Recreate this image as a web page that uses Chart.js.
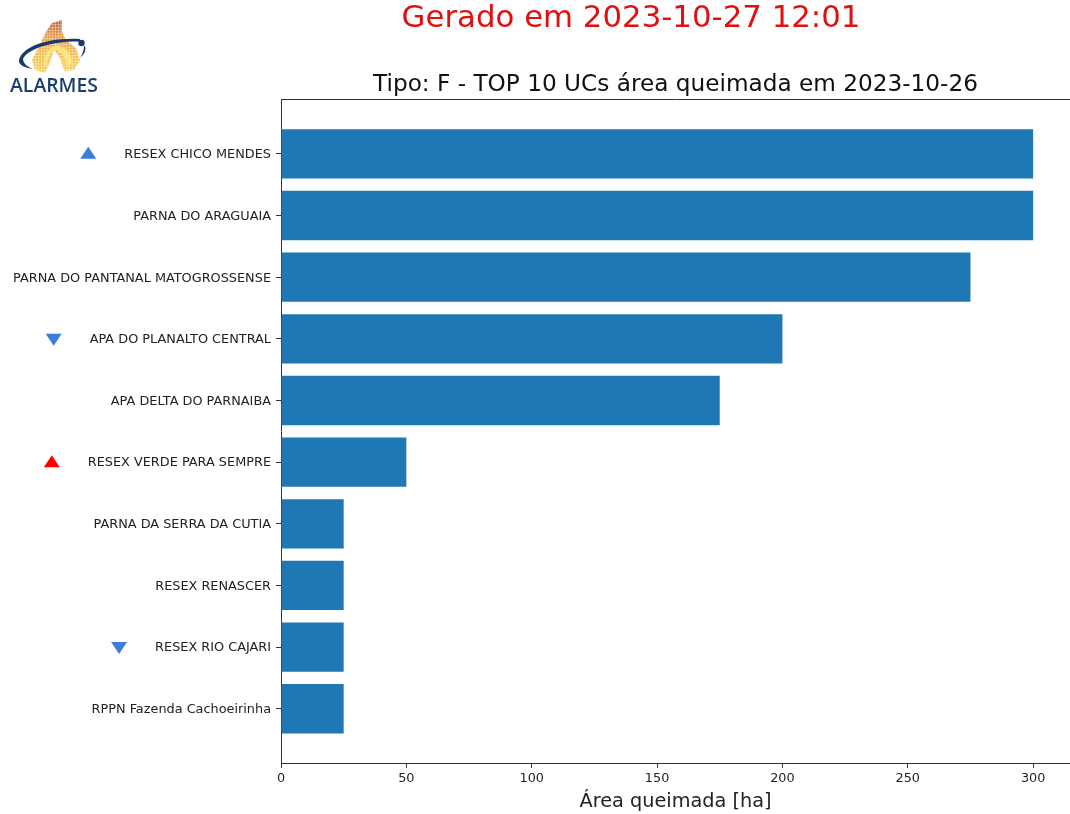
<!DOCTYPE html>
<html>
<head>
<meta charset="utf-8">
<title>TOP 10 UCs</title>
<script src="https://cdn.jsdelivr.net/npm/chart.js@4"></script>
<style>
  html, body { margin: 0; padding: 0; background: #fff; }
  #wrap { position: relative; width: 1070px; height: 814px; overflow: hidden; }
  #chart { display: block; }
  #logo { position: absolute; left: 0; top: 0; }
</style>
</head>
<body>
<div id="wrap">
  <canvas id="chart" width="1070" height="814"></canvas>
  <svg id="logo" width="110" height="100" viewBox="0 0 110 100">
    <defs>
      <linearGradient id="flameFill" x1="0" y1="0" x2="0" y2="1">
        <stop offset="0" stop-color="#b5553f"/>
        <stop offset="0.3" stop-color="#e8923f"/>
        <stop offset="0.6" stop-color="#f2b743"/>
        <stop offset="1" stop-color="#f3cf4f"/>
      </linearGradient>
      <pattern id="dots" width="2.8" height="2.8" patternUnits="userSpaceOnUse">
        <rect width="2.4" height="2.4" fill="#fff"/>
      </pattern>
      <mask id="dotMask"><rect width="110" height="100" fill="url(#dots)"/></mask>
    </defs>
    <path mask="url(#dotMask)" fill="url(#flameFill)" d="M62 20 L52 23 L47 30 L42 40 L37 50 L32 60 L35 70 L45 73 L50 62 L54 50 L60 58 L64 71 L74 70 L80 60 L76 48 L66 40 L62 32 Z"/>
    <path mask="url(#dotMask)" fill="#fcea7c" d="M44 66 Q43 50 56 45 Q68 46 72 60 Q71 66 68 68 Q64 52 55 50 Q48 54 46 66 Z"/>
    <path fill="#17396b" d="M19 62 C19 49 44 37 80 39 L80 41.5 C52 41 27 49 23 59 Q23 65 33 69 Q20 67 19 62 Z"/>
    <circle cx="81.5" cy="43" r="3.2" fill="#17396b"/>
    <path fill="#17396b" d="M85 46 Q87 52 80 58 Q84 52 84 46 Z"/>
    <text x="10" y="91.5" font-family="'Open Sans', Lato, sans-serif" font-size="20" font-weight="600" fill="#1c3f6e" textLength="88" lengthAdjust="spacingAndGlyphs">ALARMES</text>
  </svg>
</div>
<script>
const categories = [
  'RESEX CHICO MENDES',
  'PARNA DO ARAGUAIA',
  'PARNA DO PANTANAL MATOGROSSENSE',
  'APA DO PLANALTO CENTRAL',
  'APA DELTA DO PARNAIBA',
  'RESEX VERDE PARA SEMPRE',
  'PARNA DA SERRA DA CUTIA',
  'RESEX RENASCER',
  'RESEX RIO CAJARI',
  'RPPN Fazenda Cachoeirinha'
];
const areaValues = [300, 300, 275, 200, 175, 50, 25, 25, 25, 25];
// rank change against previous day, null = no marker
const trendDirections = ['up', null, null, 'down', null, 'up', null, null, 'down', null];
const trendColors = ['#3b7ddd', null, null, '#3b7ddd', null, '#ff0000', null, null, '#3b7ddd', null];

const xTicks = [0, 50, 100, 150, 200, 250, 300];
const generatedTitle = 'Gerado em 2023-10-27 12:01';
const chartTitle = 'Tipo: F - TOP 10 UCs área queimada em 2023-10-26';
const xAxisTitle = 'Área queimada [ha]';

const FONT = '"DejaVu Sans", sans-serif';
const AXIS_COLOR = '#333333';
const LABEL_SIZE = 12.85;

const extrasPlugin = {
  id: 'extras',
  afterDraw(chart) {
    const { ctx, chartArea, scales } = chart;
    ctx.save();

    // top spine
    ctx.strokeStyle = AXIS_COLOR;
    ctx.lineWidth = 1;
    ctx.beginPath();
    ctx.moveTo(chartArea.left, chartArea.top + 0.5);
    ctx.lineTo(chartArea.right, chartArea.top + 0.5);
    ctx.stroke();

    // titles
    ctx.textAlign = 'center';
    ctx.textBaseline = 'alphabetic';
    ctx.fillStyle = '#e01010';
    ctx.font = '30.8px ' + FONT;
    ctx.fillText(generatedTitle, 631, 27);
    ctx.fillStyle = '#111111';
    ctx.font = '23.2px ' + FONT;
    ctx.fillText(chartTitle, 675.5, 91);

    // trend triangles, left of each label
    ctx.font = LABEL_SIZE + 'px ' + FONT;
    trendDirections.forEach((dir, i) => {
      if (!dir) return;
      const s = dir === 'up' ? -1 : 1;
      const y = scales.y.getPixelForValue(i) + s;
      const x = chartArea.left - 10 - ctx.measureText(categories[i]).width - 36;
      ctx.fillStyle = trendColors[i];
      ctx.beginPath();
      ctx.moveTo(x - 8, y - s * 6);
      ctx.lineTo(x + 8, y - s * 6);
      ctx.lineTo(x, y + s * 6);
      ctx.closePath();
      ctx.fill();
    });
    ctx.restore();
  }
};

new Chart(document.getElementById('chart'), {
  type: 'bar',
  data: {
    datasets: [{
      data: areaValues.map((v, i) => ({ x: v, y: i })),
      backgroundColor: '#1f77b4',
      barPercentage: 0.8,
      categoryPercentage: 1
    }]
  },
  plugins: [extrasPlugin],
  options: {
    indexAxis: 'y',
    responsive: false,
    animation: false,
    layout: { padding: { top: 99, left: 0, right: 0, bottom: 0 } },
    plugins: {
      legend: { display: false },
      tooltip: { enabled: false }
    },
    scales: {
      x: {
        type: 'linear',
        min: 0,
        max: 314.7,
        afterFit: (scale) => { scale.height = 51; },
        afterBuildTicks: (scale) => { scale.ticks = xTicks.map((v) => ({ value: v })); },
        grid: { drawOnChartArea: false, color: AXIS_COLOR, tickLength: 5 },
        border: { color: AXIS_COLOR, width: 1 },
        ticks: { color: '#222222', font: { family: FONT, size: LABEL_SIZE }, padding: 3, maxRotation: 0 },
        title: {
          display: true,
          text: xAxisTitle,
          color: '#222222',
          font: { family: FONT, size: 19.3 },
          padding: { top: 2, bottom: 0 }
        }
      },
      y: {
        type: 'linear',
        reverse: true,
        offset: false,
        min: -0.89,
        max: 9.88,
        afterFit: (scale) => { scale.width = 281; },
        afterBuildTicks: (scale) => { scale.ticks = categories.map((c, i) => ({ value: i })); },
        grid: { offset: false, drawOnChartArea: false, color: AXIS_COLOR, tickLength: 5 },
        border: { color: AXIS_COLOR, width: 1 },
        ticks: {
          color: '#222222',
          font: { family: FONT, size: LABEL_SIZE },
          padding: 5,
          labelOffset: 1,
          autoSkip: false,
          callback: (v) => categories[v]
        }
      }
    }
  }
});
</script>
</body>
</html>
